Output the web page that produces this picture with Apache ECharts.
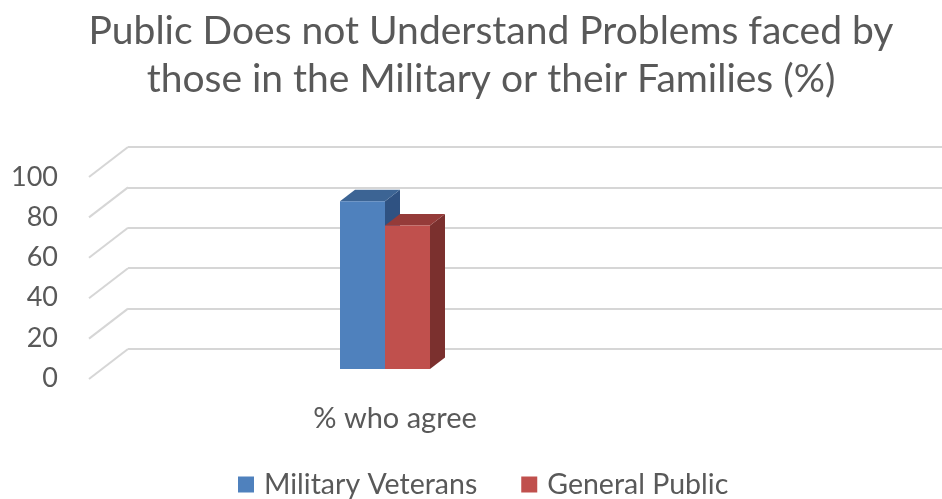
<!DOCTYPE html>
<html>
<head>
<meta charset="utf-8">
<script src="https://cdn.jsdelivr.net/npm/echarts@6/dist/echarts.min.js"></script>
<style>
html,body{margin:0;padding:0;background:#fff;}
#chart{width:942px;height:499px;}
</style>
</head>
<body>
<div id="chart"></div>
<script>
var titleText = 'Public Does not Understand Problems faced by\nthose in the Military or their Families (%)';
var categories = ['% who agree'];
var seriesNames = ['Military Veterans', 'General Public'];
var veterans = [83];
var generalPublic = [71];
var yTicks = [0, 20, 40, 60, 80, 100];

var FONT = 'Lato';
var TXT = '#595959';
var faceColors = [
  {front: '#4F81BD', top: '#3C6494', side: '#2F5282'},
  {front: '#C0504D', top: '#953B39', side: '#7B302E'}
];
var DEPTH_X = 15, DEPTH_Y = -11.5;
var BAR_W = 45;
var DIAG_X = -39, DIAG_Y = 30;

function barRender(params, api) {
  var s = params.seriesIndex - 1;
  var top = api.coord([api.value(0), api.value(1)]);
  var base = api.coord([api.value(0), 0]);
  var x0 = top[0] - BAR_W + s * BAR_W;
  var x1 = x0 + BAR_W;
  var c = faceColors[s];
  return {
    type: 'group',
    children: [
      {type: 'polygon', shape: {points: [[x1, top[1]], [x1 + DEPTH_X, top[1] + DEPTH_Y], [x1 + DEPTH_X, base[1] + DEPTH_Y], [x1, base[1]]]}, style: {fill: c.side}},
      {type: 'polygon', shape: {points: [[x0, top[1]], [x0 + DEPTH_X, top[1] + DEPTH_Y], [x1 + DEPTH_X, top[1] + DEPTH_Y], [x1, top[1]]]}, style: {fill: c.top}},
      {type: 'rect', shape: {x: x0, y: top[1], width: BAR_W, height: base[1] - top[1]}, style: {fill: c.front}}
    ]
  };
}

var chart = echarts.init(document.getElementById('chart'), null, {renderer: 'canvas'});
chart.setOption({
  animation: false,
  backgroundColor: '#fff',
  title: {
    text: titleText,
    left: 486, top: 2, textAlign: 'center',
    textStyle: {fontFamily: FONT, fontSize: 39, fontWeight: 'normal', color: TXT, lineHeight: 48}
  },
  legend: {
    data: [{name: seriesNames[0], icon: 'rect'}, {name: seriesNames[1], icon: 'rect'}],
    left: 238, top: 470, padding: 0,
    itemWidth: 16, itemHeight: 16, itemGap: 44,
    textStyle: {fontFamily: FONT, fontSize: 28.5, color: TXT, padding: [0, 0, 0, 5]}
  },
  grid: [
    {left: 128, right: 0, top: 147, bottom: 150},
    {left: 89, right: 241, top: 177, bottom: 121},
    {left: 85, right: 257, top: 167, bottom: 130}
  ],
  xAxis: [
    {gridIndex: 0, type: 'value', min: 0, max: 1, show: false},
    {gridIndex: 1, type: 'category', data: categories,
     axisLine: {show: false}, axisTick: {show: false},
     axisLabel: {margin: 26, fontFamily: FONT, fontSize: 29, color: TXT}},
    {gridIndex: 2, type: 'category', data: categories, show: false}
  ],
  yAxis: [
    {gridIndex: 0, type: 'value', min: 0, max: 100, interval: 20,
     axisLabel: {show: false}, axisLine: {show: false}, axisTick: {show: false},
     splitLine: {lineStyle: {color: '#d6d6d6', width: 2}}},
    {gridIndex: 1, type: 'value', min: 0, max: 100, interval: 20,
     axisLine: {show: false}, axisTick: {show: false}, splitLine: {show: false},
     axisLabel: {margin: 31, fontFamily: FONT, fontSize: 27, color: TXT}},
    {gridIndex: 2, type: 'value', min: 0, max: 100, show: false}
  ],
  series: [
    {
      type: 'custom', name: 'diag', xAxisIndex: 0, yAxisIndex: 0, silent: true,
      data: yTicks.map(function (v) { return [0, v]; }),
      renderItem: function (params, api) {
        var p = api.coord([0, api.value(1)]);
        return {type: 'line', shape: {x1: p[0], y1: p[1], x2: p[0] + DIAG_X, y2: p[1] + DIAG_Y},
                style: {stroke: '#d6d6d6', lineWidth: 2}};
      }
    },
    {
      type: 'custom', name: seriesNames[0], xAxisIndex: 2, yAxisIndex: 2,
      itemStyle: {color: faceColors[0].front},
      data: categories.map(function (c, i) { return [i, veterans[i]]; }),
      renderItem: barRender
    },
    {
      type: 'custom', name: seriesNames[1], xAxisIndex: 2, yAxisIndex: 2,
      itemStyle: {color: faceColors[1].front},
      data: categories.map(function (c, i) { return [i, generalPublic[i]]; }),
      renderItem: barRender
    }
  ]
});
</script>
</body>
</html>
